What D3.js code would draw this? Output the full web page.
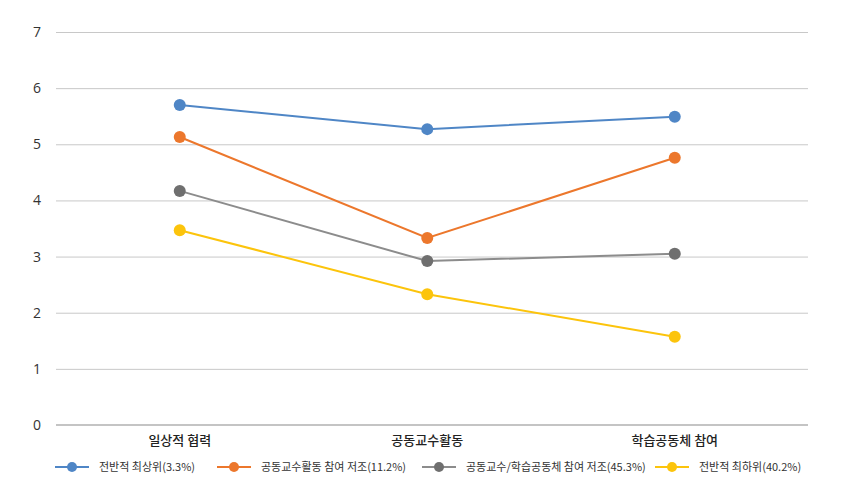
<!DOCTYPE html>
<html>
<meta charset="utf-8">
<style>
body { margin: 0; background: #fff; }
.grid line { stroke: #c8c8c8; stroke-width: 1px; }
.ytick { font: 14px "Open Sans", sans-serif; fill: #333; }
.xtick { font: 500 13px "Noto Sans CJK KR", sans-serif; fill: #222; }
.legend text { font: 11px "Noto Sans CJK KR", sans-serif; fill: #333; }
</style>
<body>
<svg width="847" height="491"></svg>
<script src="https://cdnjs.cloudflare.com/ajax/libs/d3/7.8.5/d3.min.js"></script>
<script>

var categories = ["일상적 협력", "공동교수활동", "학습공동체 참여"];
var seriesNames = ["전반적 최상위(3.3%)", "공동교수활동 참여 저조(11.2%)", "공동교수/학습공동체 참여 저조(45.3%)", "전반적 최하위(40.2%)"];
var topGroup = [5.70, 5.27, 5.49];
var lowTeach = [5.13, 3.33, 4.76];
var lowBoth = [4.17, 2.92, 3.05];
var bottomGroup = [3.47, 2.33, 1.57];
var yTicks = [0, 1, 2, 3, 4, 5, 6, 7];

var lineColors = ["#4f86c6", "#ec772c", "#8c8c8c", "#fcc40c"];
var dotColors = ["#4f86c6", "#ec772c", "#6f6f6f", "#fcc40c"];

var series = [topGroup, lowTeach, lowBoth, bottomGroup].map(function(v, i) {
  return { name: seriesNames[i], values: v, i: i };
});

var svg = d3.select("svg"),
    plotLeft = 56, plotRight = 808, plotTop = 32, plotBottom = 425;

var x = d3.scaleBand()
    .domain(categories)
    .range([plotLeft, 798.5]);

var y = d3.scaleLinear()
    .domain([0, 7])
    .range([plotBottom, plotTop]);

// gridlines
svg.append("g").attr("class", "grid")
  .selectAll("line")
  .data(yTicks.filter(function(d) { return d > 0; }))
  .enter().append("line")
    .attr("x1", plotLeft).attr("x2", plotRight)
    .attr("y1", function(d) { return y(d) + 0.5; })
    .attr("y2", function(d) { return y(d) + 0.5; });

svg.append("line")
    .attr("x1", plotLeft).attr("x2", plotRight)
    .attr("y1", y(0)).attr("y2", y(0))
    .attr("stroke", "#c4c4c4").attr("stroke-width", 2);

svg.append("g").selectAll("text")
  .data(yTicks)
  .enter().append("text")
    .attr("class", "ytick")
    .attr("x", 41)
    .attr("y", function(d) { return y(d); })
    .attr("dy", "0.36em")
    .attr("text-anchor", "end")
    .text(function(d) { return d; });

svg.append("g").selectAll("text")
  .data(categories)
  .enter().append("text")
    .attr("class", "xtick")
    .attr("x", function(d) { return x(d) + x.bandwidth() / 2; })
    .attr("y", 445)
    .attr("text-anchor", "middle")
    .text(function(d) { return d; });

var line = d3.line()
    .x(function(d, i) { return x(categories[i]) + x.bandwidth() / 2; })
    .y(function(d) { return y(d); });

var g = svg.append("g").selectAll("g")
  .data(series)
  .enter().append("g");

g.append("path")
    .attr("fill", "none")
    .attr("stroke", function(d) { return lineColors[d.i]; })
    .attr("stroke-width", 2)
    .attr("d", function(d) { return line(d.values); });

g.selectAll("circle")
  .data(function(d) { return d.values.map(function(v, j) { return { v: v, j: j, i: d.i }; }); })
  .enter().append("circle")
    .attr("cx", function(d) { return x(categories[d.j]) + x.bandwidth() / 2; })
    .attr("cy", function(d) { return y(d.v); })
    .attr("r", 6)
    .attr("fill", function(d) { return dotColors[d.i]; });

// legend
var legendX = [55, 217, 422, 655];
var legend = svg.append("g").attr("class", "legend")
  .selectAll("g")
  .data(series)
  .enter().append("g")
    .attr("transform", function(d) { return "translate(" + legendX[d.i] + ",467)"; });

legend.append("line")
    .attr("x1", 0).attr("x2", 34)
    .attr("stroke", function(d) { return lineColors[d.i]; })
    .attr("stroke-width", 2);

legend.append("circle")
    .attr("cx", 17).attr("r", 5)
    .attr("fill", function(d) { return dotColors[d.i]; });

legend.append("text")
    .attr("x", 44)
    .attr("dy", "0.35em")
    .text(function(d) { return d.name; });

</script>
</body>
</html>
